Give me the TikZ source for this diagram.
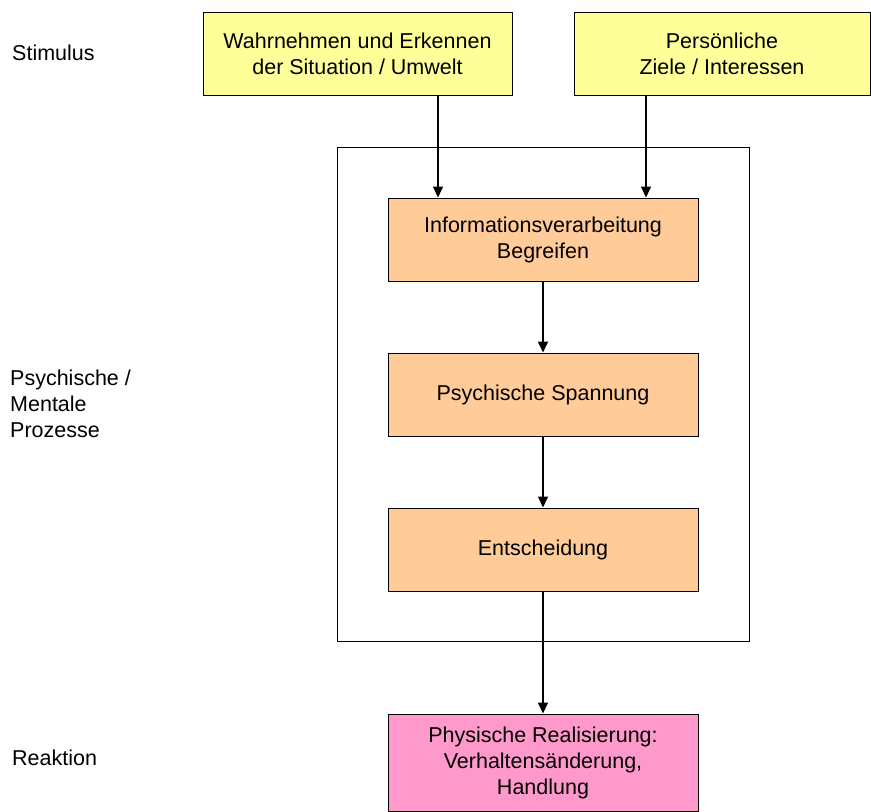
\documentclass[tikz,border=0pt]{standalone}
\usepackage{fontspec}
\setmainfont{Liberation Sans}
\usetikzlibrary{arrows.meta}
\definecolor{boxyellow}{HTML}{FFFF99}
\definecolor{boxorange}{HTML}{FFCC99}
\definecolor{boxpink}{HTML}{FF99CC}
\tikzset{
  box/.style={draw=black, line width=1pt, align=center, inner sep=0pt,
    font=\fontsize{21.5}{26}\selectfont},
  stim/.style={box, fill=boxyellow, minimum width=309pt, minimum height=83pt},
  proc/.style={box, fill=boxorange, minimum width=310pt, minimum height=83pt},
  react/.style={box, fill=boxpink, minimum width=310pt, minimum height=97pt},
  lbl/.style={anchor=west, align=left, inner sep=0pt, font=\fontsize{21.5}{26}\selectfont},
  arr/.style={line width=1.5pt, -{Triangle[width=10pt,length=11pt]}},
  frame/.style={draw=black, line width=1pt}
}
\begin{document}
\begin{tikzpicture}[x=1pt,y=-1pt]
\useasboundingbox (0,0) rectangle (871,812);
\draw[frame] (337,147) rectangle (749,641);
\node[stim] (wahr) at (357.5,53.5) {Wahrnehmen und Erkennen\\der Situation / Umwelt};
\node[stim, minimum width=296pt] (ziele) at (722,53.5) {Persönliche\\Ziele / Interessen};
\node[proc] (info) at (543,239.5) {Informationsverarbeitung\\Begreifen};
\node[proc] (span) at (543,394.5) {Psychische Spannung};
\node[proc] (ent) at (543,549.5) {Entscheidung};
\node[react] (phys) at (543,762.5) {Physische Realisierung:\\Verhaltensänderung,\\Handlung};
\node[lbl] (lstim) at (12,53) {Stimulus};
\node[lbl] (lpsy) at (10,404) {Psychische /\\Mentale\\Prozesse};
\node[lbl] (lreak) at (12,758) {Reaktion};
\draw[arr] (wahr.south -| 438,0) -- (info.north -| 438,0);
\draw[arr] (ziele.south -| 646,0) -- (info.north -| 646,0);
\draw[arr] (info) -- (span);
\draw[arr] (span) -- (ent);
\draw[arr] (ent) -- (phys);
\end{tikzpicture}
\end{document}
